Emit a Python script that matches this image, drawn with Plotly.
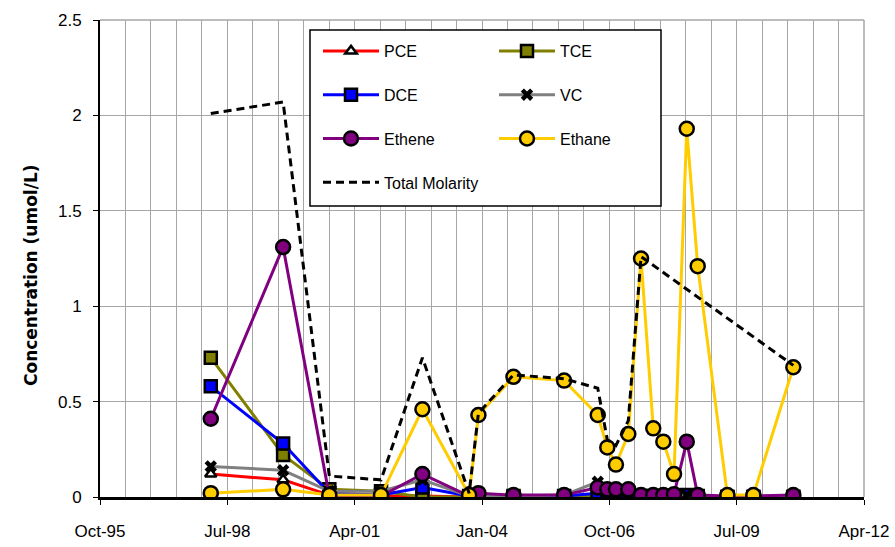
import plotly.graph_objects as go

# Sampling dates shared by the individual compounds
sample_dates = [
    "1998-03-16", "1999-10-05", "2000-10-02", "2001-11-12", "2002-10-03",
    "2003-10-05", "2003-12-17", "2004-09-17", "2005-10-20", "2006-07-11",
    "2006-09-24", "2006-12-01", "2007-03-08", "2007-06-16", "2007-09-20",
    "2007-12-08", "2008-03-01", "2008-06-09", "2008-09-03", "2009-04-24",
    "2009-11-14", "2010-09-24",
]

# Concentrations (umol/L); None = not sampled on that date
pce = [0.12, 0.09, 0.01, 0.005, 0.005, 0.0, None, 0.0, 0.0, 0.005, 0.0,
       0.0, 0.0, 0.0, 0.0, 0.0, 0.0, 0.005, 0.0, 0.0, 0.0, 0.0]
tce = [0.73, 0.22, 0.04, 0.03, 0.0, 0.0, None, 0.0, 0.0, 0.005, 0.0,
       0.0, 0.0, 0.0, 0.0, 0.0, 0.0, 0.0, 0.0, 0.0, 0.0, 0.0]
dce = [0.58, 0.28, 0.02, 0.01, 0.05, 0.005, None, 0.005, 0.005, 0.02, 0.02,
       0.02, 0.02, 0.005, 0.005, 0.005, 0.005, 0.01, 0.005, 0.0, 0.0, 0.0]
vc = [0.16, 0.14, 0.03, 0.03, 0.09, 0.005, None, 0.005, 0.01, 0.08, 0.03,
      0.03, 0.03, 0.005, 0.005, 0.005, 0.005, 0.01, 0.005, 0.0, 0.0, 0.0]
ethene = [0.41, 1.31, 0.005, 0.005, 0.12, 0.005, 0.02, 0.01, 0.01, 0.05, 0.04,
          0.04, 0.04, 0.01, 0.01, 0.01, 0.015, 0.29, 0.01, 0.005, 0.005, 0.01]
ethane = [0.02, 0.04, 0.01, 0.01, 0.46, 0.01, 0.43, 0.63, 0.61, 0.43, 0.26,
          0.17, 0.33, 1.25, 0.36, 0.29, 0.12, 1.93, 1.21, 0.01, 0.01, 0.68]

# Total molarity is reported on fewer dates
total_dates = [
    "1998-03-16", "1999-10-05", "2000-10-02", "2001-11-12", "2002-10-03",
    "2003-10-05", "2003-12-17", "2004-09-17", "2005-10-20", "2006-07-11",
    "2006-09-24", "2006-12-01", "2007-03-08", "2007-06-16", "2010-09-24",
]
total = [2.01, 2.07, 0.11, 0.09, 0.73, 0.02, 0.44, 0.64, 0.62, 0.57,
         0.30, 0.27, 0.40, 1.26, 0.69]

FONT = "Liberation Sans, Arial, sans-serif"
DAY_MS = 86400000

series = [
    # name, values, line colour, marker symbol, marker fill, size, legend
    ("PCE", pce, "#FF0000", "triangle-up", "white", 10, "legend"),
    ("TCE", tce, "#808000", "square", "#808000", 12, "legend2"),
    ("DCE", dce, "#0000FF", "square", "#0000FF", 12, "legend"),
    ("VC", vc, "#808080", "x", "black", 11, "legend2"),
    ("Ethene", ethene, "#800080", "circle", "#800080", 14, "legend"),
    ("Ethane", ethane, "#FFCC00", "circle", "#FFCC00", 14, "legend2"),
]

fig = go.Figure()
for name, vals, color, symbol, fill, size, leg in series:
    is_x = symbol == "x"
    fig.add_trace(go.Scatter(
        x=sample_dates, y=vals, name=name, mode="lines+markers",
        connectgaps=True, legend=leg, legendgroup=name,
        line=dict(color=color, width=3),
        marker=dict(symbol=symbol, size=size, color=fill,
                    line=dict(color="black", width=0 if is_x else 2.5)),
    ))

fig.add_trace(go.Scatter(
    x=total_dates, y=total, name="Total Molarity", mode="lines",
    legend="legend", legendgroup="Total Molarity",
    line=dict(color="black", width=3, dash="8px,5px"),
))

grid = "#a6a6a6"
legend_common = dict(
    font=dict(family=FONT, size=16, color="black"),
    bgcolor="rgba(0,0,0,0)", borderwidth=0,
    orientation="v", tracegroupgap=20, itemwidth=56,
    xanchor="left", yanchor="top",
)

fig.update_layout(
    width=895, height=547,
    margin=dict(l=100, r=31, t=20, b=50),
    paper_bgcolor="white", plot_bgcolor="white",
    showlegend=True,
    legend=dict(x=(318 - 100) / 764, y=(497 - 34) / 477, **legend_common),
    legend2=dict(x=(494 - 100) / 764, y=(497 - 34) / 477, **legend_common),
    xaxis=dict(
        type="date", range=["1995-10-28", "2012-04-01"],
        tick0="1995-10-28", dtick=1000 * DAY_MS, tickformat="%b-%y",
        ticks="outside", ticklen=5, tickwidth=1, tickcolor="black",
        showline=True, linecolor="black", linewidth=3,
        showgrid=True, gridcolor=grid, gridwidth=1,
        minor=dict(tick0="1995-10-28", dtick=200 * DAY_MS,
                   showgrid=True, gridcolor=grid, gridwidth=1),
        tickfont=dict(family=FONT, size=17, color="black"),
        ticklabelstandoff=12, zeroline=False, automargin=False,
    ),
    yaxis=dict(
        range=[0, 2.5], dtick=0.5, ticks="outside", ticklen=5,
        tickcolor="black", showline=True, linecolor="black", linewidth=2,
        showgrid=True, gridcolor=grid, gridwidth=1, zeroline=False,
        tickfont=dict(family=FONT, size=17, color="black"),
        ticklabelstandoff=8, automargin=False,
    ),
    shapes=[
        # legend frame
        dict(type="rect", xref="paper", yref="paper",
             x0=(310 - 100) / 764, x1=(661 - 100) / 764,
             y0=(497 - 206) / 477, y1=(497 - 30) / 477,
             line=dict(color="black", width=1.5), fillcolor="white",
             layer="above"),
        # top and right plot border
        dict(type="line", xref="paper", yref="paper", x0=0, x1=1, y0=1, y1=1,
             line=dict(color=grid, width=1.5), layer="below"),
        dict(type="line", xref="paper", yref="paper", x0=1, x1=1, y0=0, y1=1,
             line=dict(color=grid, width=1.5), layer="below"),
    ],
    annotations=[
        dict(text="<b>Concentration (umol/L)</b>", textangle=-90,
             xref="paper", yref="paper", x=(31 - 100) / 764,
             y=(497 - 275) / 477, xanchor="center", yanchor="middle",
             showarrow=False,
             font=dict(family="DejaVu Sans, sans-serif", size=17,
                       color="black")),
    ],
)

fig.write_html("out.html")
